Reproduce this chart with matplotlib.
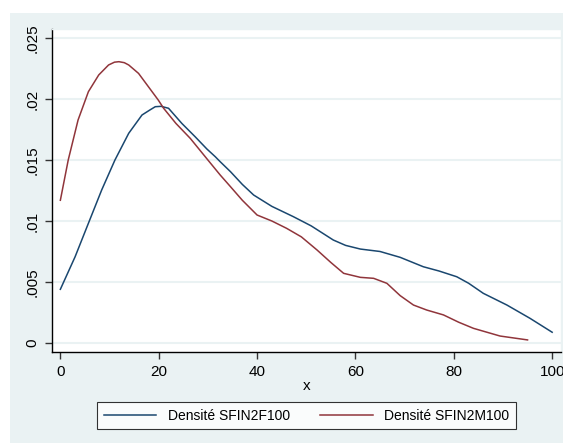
import matplotlib
matplotlib.use('Agg')
import matplotlib.pyplot as plt
from matplotlib.patches import Rectangle

plt.rcParams['font.family'] = ['Liberation Sans', 'DejaVu Sans']

# Densité SFIN2F100 (bleu)
x_f = [0, 3.0, 5.7, 8.4, 11.1, 13.9, 16.6, 18.2, 19.3, 20.5, 22, 24.7, 27.4,
       29.8, 31.5, 32.5, 34.6, 37, 39.3, 43, 47.4, 51, 55.5, 58, 61, 65, 69.1,
       73.8, 77, 80.6, 83, 86, 90.8, 95.5, 100]
y_f = [.0044, .00707, .00981, .01254, .0150, .01719, .01869, .0191, .01937,
       .0194, .01924, .0180, .01691, .0159, .01527, .01486, .01404, .0130,
       .01213, .0112, .01035, .0096, .00844, .0080, .0077, .0075, .00702,
       .00625, .0059, .00543, .0049, .00407, .00311, .00202, .00088]

# Densité SFIN2M100 (rouge)
x_m = [0, 1.6, 3.6, 5.7, 7.8, 9.8, 11.0, 11.9, 13.0, 13.9, 15.9, 17.9, 19.9,
       21, 23.5, 26.4, 30, 32.5, 34.6, 37, 40, 43, 46, 49, 52.2, 55, 57.6, 61,
       63.7, 66.4, 69.1, 71.8, 74.5, 77.9, 81, 84, 89.4, 95]
y_m = [.0117, .0150, .01828, .0206, .02197, .02279, .02302, .02306, .02298,
       .02279, .0221, .02101, .01992, .01924, .0180, .01678, .0150, .01377,
       .01281, .0117, .01049, .0100, .0094, .0087, .00762, .0066, .00571,
       .00538, .0053, .00489, .00388, .00311, .0027, .0023, .0017, .0012,
       .00057, .00025]

x_ticks = [0, 20, 40, 60, 80, 100]
y_ticks = [0, .005, .01, .015, .02, .025]
y_labels = ['0', '.005', '.01', '.015', '.02', '.025']

bg = '#EAF2F3'
fig = plt.figure(figsize=(5.63, 4.43), dpi=100)
fig.patches.append(Rectangle((10 / 563, 0), 1, 1 - 13 / 443, transform=fig.transFigure,
                             facecolor=bg, edgecolor='none', zorder=-10))

ax = fig.add_axes([52 / 563, 1 - 352 / 443, 509 / 563, 323 / 443])
ax.set_facecolor('white')

ax.plot(x_f, y_f, color='#1A476F', lw=1.1, label='Densité SFIN2F100')
ax.plot(x_m, y_m, color='#90353B', lw=1.1, label='Densité SFIN2M100')

ax.set_xlim(-1.7, 101.8)
ax.set_ylim(-0.00074, 0.02574)
ax.set_xticks(x_ticks)
ax.set_yticks(y_ticks)
ax.set_yticklabels(y_labels, rotation=90, va='center')
ax.tick_params(direction='out', length=5, width=1, color='#333333', labelsize=11, pad=4)
ax.grid(axis='y', color=bg, lw=1.5)
ax.set_axisbelow(True)

for s in ['left', 'bottom']:
    ax.spines[s].set_color('black')
    ax.spines[s].set_linewidth(1)
for s in ['top', 'right']:
    ax.spines[s].set_color(bg)
    ax.spines[s].set_linewidth(1)

ax.set_xlabel('x', fontsize=11, labelpad=0)

leg = fig.legend(loc='center', bbox_to_anchor=(306.5 / 563, 1 - 415.5 / 443), ncol=2,
                 fontsize=10, frameon=True, fancybox=False, handlelength=3.8,
                 columnspacing=2.2, borderpad=0.5)
leg.get_frame().set_edgecolor('black')
leg.get_frame().set_linewidth(0.8)

fig.savefig('out.png', dpi=100)
